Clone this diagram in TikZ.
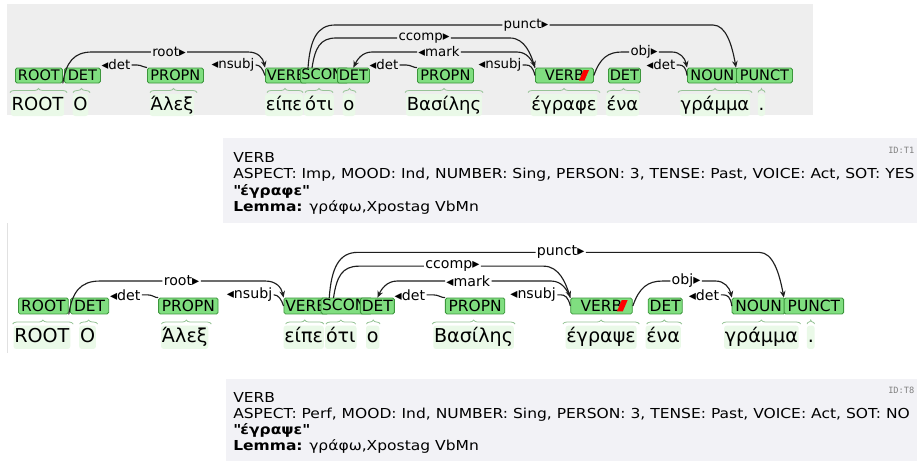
\documentclass[tikz,border=0pt]{standalone}
\usepackage{fontspec}
\setmainfont{DejaVu Sans}
\newfontfamily\idfont{DejaVu Sans Mono}
\newfontfamily\tipfont[FakeStretch=1.13]{DejaVu Sans}
\usetikzlibrary{arrows.meta,decorations.pathreplacing}
\definecolor{boxfill}{RGB}{128,222,128}
\definecolor{boxdraw}{RGB}{60,150,60}
\definecolor{wordbg}{RGB}{234,249,232}
\definecolor{bracecol}{RGB}{150,195,150}
\definecolor{panelgray}{RGB}{238,238,238}
\definecolor{tipgray}{RGB}{242,242,246}
\definecolor{arccol}{RGB}{30,30,30}
\definecolor{bordergray}{RGB}{225,225,225}
\tikzset{
 tagbox/.style={draw=boxdraw, fill=boxfill, rounded corners=1.2pt, line width=0.6pt, minimum height=11.25pt, inner sep=0pt, font=\fontsize{10.9}{12}\selectfont, anchor=west},
 arclabel/.style={inner sep=0.8pt, font=\fontsize{10}{12}\selectfont},
 arcline/.style={draw=arccol, line width=0.85pt},
 arcarrow/.style={arcline, -{Stealth[length=5pt,width=4.2pt]}},
 wordnode/.style={fill=wordbg, rounded corners=2pt, anchor=base, inner xsep=0.6pt, inner ysep=1pt, text height=11pt, text depth=3.5pt, font=\fontsize{13.5}{16}\selectfont},
 tokbrace/.style={draw=bracecol, line width=0.6pt, decorate, decoration={brace, amplitude=3pt}},
 tiptext/.style={anchor=base west, inner sep=0pt, font=\tipfont\fontsize{10.3}{12}\selectfont},
 idtext/.style={anchor=base west, inner sep=0pt, text=gray, font=\idfont\fontsize{6.5}{8}\selectfont},
}
\newcommand\deptree[2]{%
 % braces
 \draw[tokbrace] (10,92.5) -- (67,92.5);
 \draw[tokbrace] (73,92.5) -- (90,92.5);
 \draw[tokbrace] (150,92.5) -- (197,92.5);
 \draw[tokbrace] (267,92.5) -- (303,92.5);
 \draw[tokbrace] (305,92.5) -- (333,92.5);
 \draw[tokbrace] (343,92.5) -- (356,92.5);
 \draw[tokbrace] (405,92.5) -- (483,92.5);
 \draw[tokbrace] (528,92.5) -- (600,92.5);
 \draw[tokbrace] (607,92.5) -- (640,92.5);
 \draw[tokbrace] (678,92.5) -- (752,92.5);
 \draw[tokbrace] (758,92.5) -- (765,92.5);
 % words
 \node[wordnode] (#1wroot) at (37.5,110) {ROOT};
 \node[wordnode] (#1wo) at (80.5,110) {Ο};
 \node[wordnode] (#1walex) at (172,110) {Άλεξ};
 \node[wordnode] (#1weipe) at (284,110) {είπε};
 \node[wordnode] (#1woti) at (319,110) {ότι};
 \node[wordnode] (#1wo2) at (349,110) {ο};
 \node[wordnode] (#1wvas) at (444,110) {Βασίλης};
 \node[wordnode] (#1wverb) at (564,110) {#2};
 \node[wordnode] (#1wena) at (622.5,110) {ένα};
 \node[wordnode] (#1wgram) at (715,110) {γράμμα};
 \node[wordnode] (#1wdot) at (761.5,110) {.};
 % tag boxes
 \node[tagbox, minimum width=35.25pt] (#1broot) at (15,75.5) {ROOT};
 \node[tagbox, minimum width=27pt] (#1bdet1) at (64,75.5) {DET};
 \node[tagbox, minimum width=42pt] (#1bpropn1) at (147,75.5) {PROPN};
 \node[tagbox, minimum width=31.5pt] (#1bverb1) at (265,75.5) {VERB};
 \node[tagbox, minimum width=36pt] (#1bsconj) at (300,75.5) {SCONJ};
 \node[tagbox, minimum width=24pt] (#1bdet2) at (337,75.5) {DET};
 \node[tagbox, minimum width=42pt] (#1bpropn2) at (417,75.5) {PROPN};
 \node[tagbox, minimum width=43.5pt] (#1bverb2) at (535,75.5) {VERB\hspace{7.5pt}};
 \node[tagbox, minimum width=24pt] (#1bdet3) at (608,75.5) {DET};
 \node[tagbox, minimum width=37.5pt] (#1bnoun) at (687,75.5) {NOUN};
 \node[tagbox, minimum width=42pt] (#1bpunct) at (736,75.5) {PUNCT};
 \fill[red] (579,80.5) -- (583.5,70) -- (589,70) -- (584.5,80.5) -- cycle;
 % arc labels
 \node[arclabel] (#1lroot) at (169,52) {root▸};
 \node[arclabel] (#1ldet1) at (116,65) {◂det};
 \node[arclabel] (#1lnsubj1) at (233,65) {◂nsubj};
 \node[arclabel] (#1ldet2) at (384,65) {◂det};
 \node[arclabel] (#1lmark) at (439,52) {◂mark};
 \node[arclabel] (#1lccomp) at (424,38) {ccomp▸};
 \node[arclabel] (#1lpunct) at (526,25) {punct▸};
 \node[arclabel] (#1lnsubj2) at (500,65) {◂nsubj};
 \node[arclabel] (#1lobj) at (644,52) {obj▸};
 \node[arclabel] (#1ldet3) at (661,65) {◂det};
 \coordinate (#1cstart) at (312,68);
 \coordinate (#1pstart) at (308,68);
 % arcs
 \draw[arcline] (#1broot.south east) .. controls (66,62) and (74,52) .. (92,52) -- (#1lroot.west);
 \draw[arcarrow] (#1lroot.east) -- (248,52) .. controls (258,52) and (263,58) .. (#1bverb1.north west);
 \draw[arcline] (#1ldet1.east) -- (137,65) .. controls (142,65) and (144,68) .. (#1bpropn1.north west);
 \draw[arcline] (#1lnsubj1.east) -- (256,65) .. controls (260,65) and (263,69) .. (#1bverb1.west);
 \draw[arcline] (#1ldet2.east) -- (406,65) .. controls (411,65) and (414,68) .. (#1bpropn2.north west);
 \draw[arcarrow] (#1lmark.west) -- (372,52) .. controls (362,52) and (357,60) .. (#1bdet2.north);
 \draw[arcline] (#1lmark.east) -- (517,52) .. controls (527,52) and (532,60) .. (#1bverb2.north west);
 \draw[arcline] (#1cstart) .. controls (315,48) and (320,38) .. (336,38) -- (#1lccomp.west);
 \draw[arcarrow] (#1lccomp.east) -- (510,38) .. controls (525,38) and (531,55) .. (#1bverb2.north west);
 \draw[arcline] (#1pstart) .. controls (310,40) and (317,25) .. (335,25) -- (#1lpunct.west);
 \draw[arcarrow] (#1lpunct.east) -- (713,25) .. controls (726,25) and (732,45) .. (#1bpunct.north west);
 \draw[arcline] (#1bverb2.east) .. controls (600,58) and (608,52) .. (622,52) -- (#1lobj.west);
 \draw[arcarrow] (#1lobj.east) -- (672,52) .. controls (680,52) and (685,58) .. (#1bnoun.north west);
 \draw[arcline] (#1lnsubj2.east) -- (526,65) .. controls (530,65) and (533,67) .. (#1bverb2.west);
 \draw[arcline] (#1ldet3.east) -- (679,65) .. controls (683,65) and (686,67) .. (#1bnoun.west);
}
\begin{document}
\begin{tikzpicture}[x=0.75pt, y=-0.75pt]
\useasboundingbox (0,0) rectangle (917,461);
\fill[white] (0,0) rectangle (917,461);
% top panel
\fill[panelgray] (7,4) rectangle (813,115);
\deptree{t}{έγραφε}
% tooltip 1
\begin{scope}
\clip (0,0) rectangle (917,461);
\fill[tipgray] (223,138) rectangle (917,223);
\node[tiptext] (t1a) at (233,162) {VERB};
\node[tiptext] (t1b) at (233,178.5) {ASPECT: Imp, MOOD: Ind, NUMBER: Sing, PERSON: 3, TENSE: Past, VOICE: Act, SOT: YES};
\node[tiptext] (t1c) at (233,195) {\bfseries\textquotedbl έγραφε\textquotedbl};
\node[tiptext] (t1d) at (233,211.5) {\textbf{Lemma:} γράφω,Xpostag VbMn};
\node[idtext] (t1id) at (888,153) {ID:T1};
% bottom panel
\draw[bordergray, line width=0.6pt] (7,223) -- (7,353);
\begin{scope}[shift={(2.07,225.8)}, scale=1.062, transform shape]
\deptree{b}{έγραψε}
\end{scope}
% tooltip 2
\fill[tipgray] (226,379) rectangle (917,461);
\node[tiptext] (t2a) at (233,402) {VERB};
\node[tiptext] (t2b) at (233,418) {ASPECT: Perf, MOOD: Ind, NUMBER: Sing, PERSON: 3, TENSE: Past, VOICE: Act, SOT: NO};
\node[tiptext] (t2c) at (233,434) {\bfseries\textquotedbl έγραψε\textquotedbl};
\node[tiptext] (t2d) at (233,450) {\textbf{Lemma:} γράφω,Xpostag VbMn};
\node[idtext] (t2id) at (888,393) {ID:T8};
\end{scope}
\end{tikzpicture}
\end{document}
